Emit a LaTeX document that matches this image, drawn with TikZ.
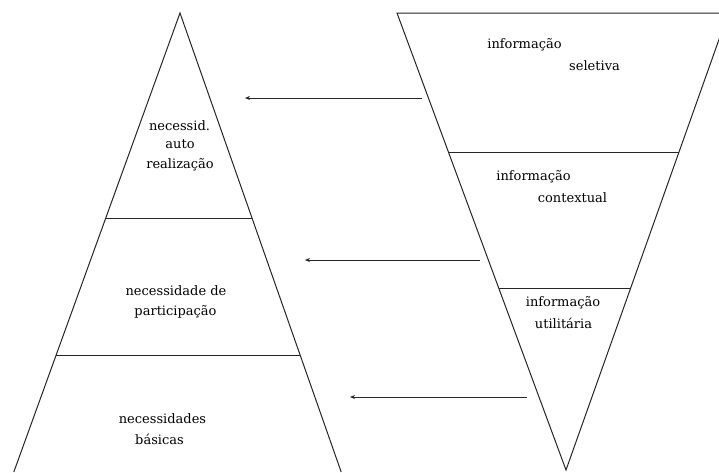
\documentclass[tikz,border=0pt]{standalone}
\usepackage{fontspec}
\setmainfont{DejaVu Serif}
\usetikzlibrary{arrows.meta}
\begin{document}
\begin{tikzpicture}[x=1pt,y=-1pt,
  edge/.style={line width=1pt,black!85},
  lbl/.style={inner sep=0pt,anchor=mid,font=\fontsize{13}{15}\selectfont},
  arr/.style={line width=1pt,black!85,-{Stealth[length=5pt,width=4pt]}}]
\useasboundingbox (0,0) rectangle (719,472);
\fill[white] (0,0) rectangle (719,472);
\begin{scope}
\clip (0,0) rectangle (719,472);
% pyramid
\coordinate (pA) at (180,13);
\coordinate (pL) at (13.8,472);
\coordinate (pR) at (341.2,472);
\draw[edge] (pL) -- (pA) -- (pR);
\coordinate (l1a) at (106,218); \coordinate (l1b) at (252,218);
\coordinate (l2a) at (56,355);  \coordinate (l2b) at (300,355);
\draw[edge] (l1a) -- (l1b);
\draw[edge] (l2a) -- (l2b);
% inverted triangle
\coordinate (iA) at (566,470);
\coordinate (iL) at (397,13);
\coordinate (iR) at (728.4,13);
\draw[edge] (iA) -- (iL) -- (iR) -- cycle;
\coordinate (r1a) at (448.4,152); \coordinate (r1b) at (679,152);
\coordinate (r2a) at (498.7,288); \coordinate (r2b) at (630.6,288);
\draw[edge] (r1a) -- (r1b);
\draw[edge] (r2a) -- (r2b);
\end{scope}
% arrows
\coordinate (a1s) at (422,98);  \coordinate (a1e) at (245,98);
\coordinate (a2s) at (480,260); \coordinate (a2e) at (305,260);
\coordinate (a3s) at (527,397); \coordinate (a3e) at (350,397);
\draw[arr] (a1s) -- (a1e);
\draw[arr] (a2s) -- (a2e);
\draw[arr] (a3s) -- (a3e);
% labels
\node[lbl] (t1) at (179.5,128) {necessid.};
\node[lbl] (t2) at (180,146) {auto};
\node[lbl] (t3) at (180,166) {realização};
\node[lbl] (t4) at (176,293) {necessidade de};
\node[lbl] (t5) at (175.5,313) {participação};
\node[lbl] (t6) at (162.5,421) {necessidades};
\node[lbl] (t7) at (159.5,442) {básicas};
\node[lbl] (s1) at (524.5,46) {informação};
\node[lbl] (s2) at (594.5,68) {seletiva};
\node[lbl] (c1) at (533.5,178) {informação};
\node[lbl] (c2) at (572.5,200) {contextual};
\node[lbl] (u1) at (563,304) {informação};
\node[lbl] (u2) at (563.5,326) {utilitária};
\end{tikzpicture}
\end{document}
